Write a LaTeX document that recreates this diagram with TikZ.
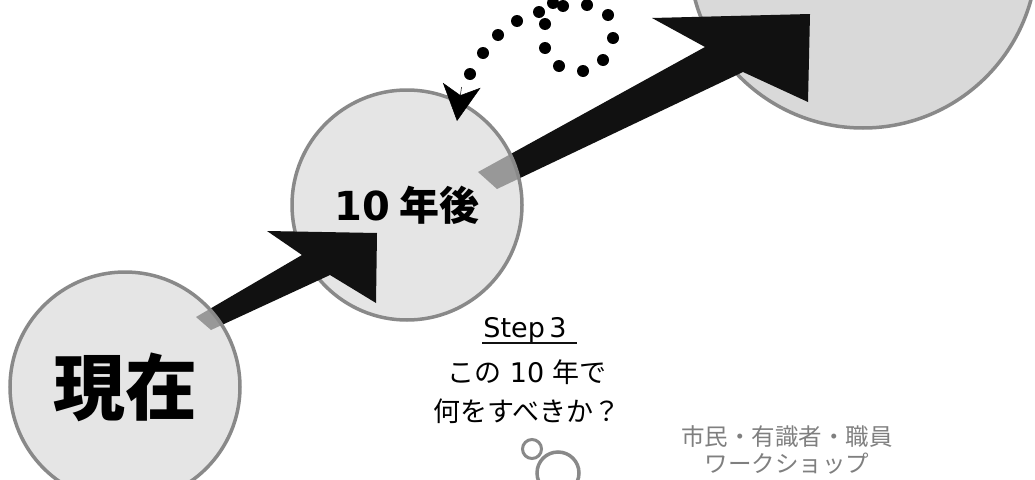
\documentclass[tikz,border=0pt]{standalone}
\usepackage{fontspec}
\newfontfamily\jp{Noto Sans CJK JP}
\newfontfamily\dv{DejaVu Sans}
\usetikzlibrary{arrows.meta}
\definecolor{ring}{HTML}{898989}
\definecolor{disc}{gray}{0.85}
\definecolor{ink}{HTML}{111111}
\definecolor{bigdisc}{HTML}{D9D9D9}
\definecolor{note}{HTML}{7F7F7F}
\begin{document}
\begin{tikzpicture}[x=1pt,y=-1pt,
  ball/.style={circle, draw=ring, line width=3.5pt, inner sep=0pt},
  seeball/.style={ball, fill=disc, fill opacity=0.68, draw opacity=1, text opacity=1},
  bubble/.style={circle, draw=ring, line width=3.5pt, inner sep=0pt},
  blockarrow/.style={fill=ink},
  dotmark/.style={fill=black},
  label/.style={anchor=base, inner sep=0pt, font=\jp\fontsize{27}{27}\selectfont},
  notetext/.style={anchor=base, inner sep=0pt, text=note, font=\jp\fontsize{23.5}{23.5}\selectfont}]
\useasboundingbox (0,0) rectangle (1035,479);
\clip (0,0) rectangle (1035,479);
% goal circle
\node[ball, fill=bigdisc, minimum size=348pt] (goal) at (863,-46) {};
% arrow 2
\fill[blockarrow] (478,172) -- (705,47) -- (652,18) -- (810,14) -- (808,102) -- (743,72) -- (497,189) -- cycle;
% 10 years circle
\node[seeball, minimum size=230pt] (ten) at (407,205) {\jp\bfseries\fontsize{40}{40}\selectfont{\dv\bfseries 10} 年後};
% arrow 1
\fill[blockarrow] (196,317) -- (302,255) -- (267,231) -- (377,233) -- (376,303) -- (330,275) -- (211,330) -- cycle;
% now circle
\node[seeball, minimum size=230pt] (now) at (125,387) {\jp\bfseries\fontsize{72}{72}\selectfont 現在};
% dotted loop arrow
\coordinate (loopstart) at (553,3);
\coordinate (tenin) at (457,121);
\foreach \p in {(553,3),(545,24),(545,48),(559,66),(583,71),(603,60),(613,38),(608,15),(587,5),(563,6),(539,12),(517,21),(498,35),(483,53),(470,74)}
  \fill[dotmark] \p circle (6pt);
\draw[black, line width=0.5pt, -{Stealth[length=36pt,width=38pt,inset=10pt]}] (461.5,87) -- (tenin);
% texts
\node[label] (step) at (525,337) {{\dv Step\,3}};
\draw[ink, line width=1.6pt] (482,343) -- (577,343);
\node[label] (l2) at (527,382) {この{\dv\ 10\ }年で};
\node[label] (l3) at (527,421) {何をすべきか？};
% bubbles
\node[bubble, line width=3pt, minimum size=19pt] (b1) at (532,449) {};
\node[bubble, line width=3.5pt, minimum size=42pt] (b2) at (558,473) {};
\node[notetext] (n1) at (787,445) {市民・有識者・職員};
\node[notetext] (n2) at (787,472) {ワークショップ};
\end{tikzpicture}
\end{document}
